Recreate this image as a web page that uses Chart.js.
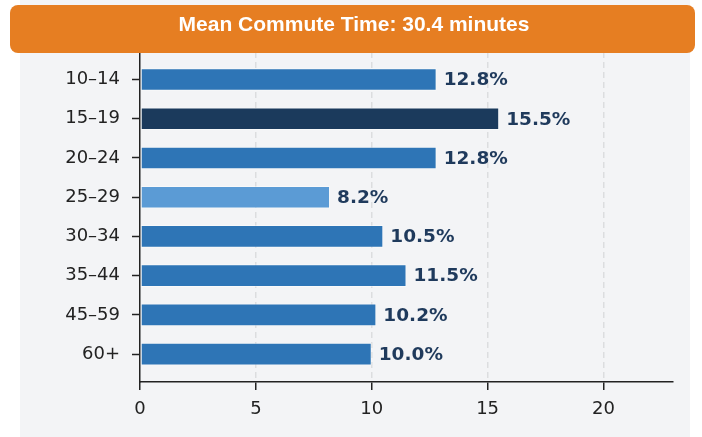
<!DOCTYPE html>
<html>
<head>
<meta charset="utf-8">
<script src="https://cdn.jsdelivr.net/npm/chart.js@4"></script>
<style>
html,body{margin:0;padding:0;background:#ffffff;}
#wrap{position:relative;width:702px;height:437px;}
canvas{display:block;}
</style>
</head>
<body>
<div id="wrap"><canvas id="c" width="702" height="437"></canvas></div>
<script>
const titleText = "Mean Commute Time: 30.4 minutes";
const categories = ["10–14", "15–19", "20–24", "25–29", "30–34", "35–44", "45–59", "60+"];
const shares = [12.8, 15.5, 12.8, 8.2, 10.5, 11.5, 10.2, 10.0];
const barColors = ["#2e75b6", "#1b3a5c", "#2e75b6", "#5b9bd5", "#2e75b6", "#2e75b6", "#2e75b6", "#2e75b6"];
const xTicks = [0, 5, 10, 15, 20];

const points = shares.map((v, i) => ({ x: v, y: i }));

const panelPlugin = {
  id: 'panel',
  beforeDraw(chart) {
    const ctx = chart.ctx;
    ctx.save();
    ctx.fillStyle = '#f3f4f6';
    ctx.fillRect(20, 0, 670, 437);
    ctx.restore();
  }
};

const labelPlugin = {
  id: 'barLabels',
  afterDatasetsDraw(chart) {
    const ctx = chart.ctx;
    const meta = chart.getDatasetMeta(0);
    ctx.save();
    ctx.font = 'bold 18.5px "DejaVu Sans"';
    ctx.fillStyle = '#1f3a5c';
    ctx.textAlign = 'left';
    ctx.textBaseline = 'middle';
    meta.data.forEach((bar, i) => {
      ctx.fillText(shares[i].toFixed(1) + '%', bar.x + 7, bar.y + 1);
    });
    ctx.restore();
  }
};

const bannerPlugin = {
  id: 'banner',
  afterDraw(chart) {
    const ctx = chart.ctx;
    ctx.save();
    const x = 10, y = 5, w = 685, h = 48, r = 8;
    ctx.beginPath();
    ctx.roundRect(x, y, w, h, r);
    ctx.fillStyle = '#e67e22';
    ctx.fill();
    ctx.font = 'bold 21px "Liberation Sans", Arial, sans-serif';
    ctx.fillStyle = '#ffffff';
    ctx.textAlign = 'center';
    ctx.textBaseline = 'middle';
    ctx.fillText(titleText, 354, 25);
    ctx.restore();
  }
};

new Chart(document.getElementById('c'), {
  type: 'bar',
  data: {
    datasets: [{
      data: points,
      backgroundColor: barColors,
      borderColor: 'rgba(255,255,255,0.45)',
      borderWidth: 1,
      borderSkipped: false,
      barPercentage: 0.72,
      categoryPercentage: 0.8
    }]
  },
  options: {
    indexAxis: 'y',
    responsive: false,
    animation: false,
    events: [],
    layout: { padding: { left: 0, right: 29, top: 52, bottom: 0 } },
    plugins: { legend: { display: false }, tooltip: { enabled: false }, title: { display: false } },
    scales: {
      x: {
        type: 'linear',
        min: 0,
        max: 23,
        afterFit(s) { s.height = 55; },
        afterBuildTicks(s) { s.ticks = xTicks.map(v => ({ value: v })); },
        border: { display: true, color: '#222222', width: 1.5, dash: [6, 4] },
        grid: {
          display: true,
          drawOnChartArea: true,
          drawTicks: true,
          color: (c) => (c.tick && c.tick.value === 0) ? 'rgba(0,0,0,0)' : '#dcdddf',
          lineWidth: 1.5,
          tickColor: '#222222',
          tickLength: 8,
          tickWidth: 1.5,
          tickBorderDash: []
        },
        ticks: {
          color: '#222222',
          font: { family: '"DejaVu Sans"', size: 18 },
          padding: 9
        }
      },
      y: {
        type: 'linear',
        reverse: true,
        offset: false,
        min: -0.7,
        max: 7.71,
        afterFit(s) { s.width = 140; },
        afterBuildTicks(s) { s.ticks = categories.map((_, i) => ({ value: i })); },
        border: { display: true, color: '#222222', width: 1.5 },
        grid: {
          display: true,
          offset: false,
          drawOnChartArea: false,
          drawTicks: true,
          tickColor: '#222222',
          tickLength: 8,
          tickWidth: 1.5
        },
        ticks: {
          color: '#222222',
          font: { family: '"DejaVu Sans"', size: 18 },
          padding: 12,
          callback: (v) => categories[v] !== undefined ? categories[v] : ''
        }
      }
    }
  },
  plugins: [panelPlugin, labelPlugin, bannerPlugin]
});
</script>
</body>
</html>
